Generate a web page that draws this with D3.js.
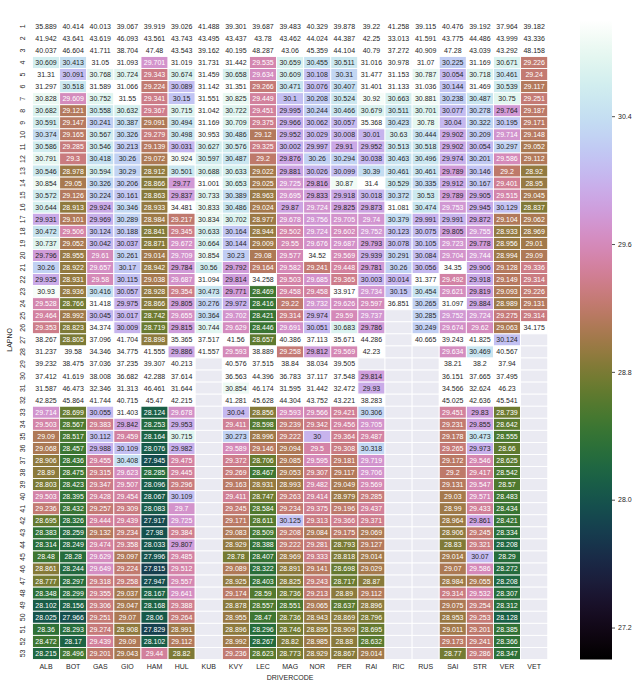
<!DOCTYPE html>
<html>
<head>
<meta charset="utf-8">
<script src="https://cdn.jsdelivr.net/npm/d3@7"></script>
<style>
  html, body { margin: 0; padding: 0; background: #ffffff; }
  svg { display: block; font-family: "Liberation Sans", Arial, sans-serif; }
</style>
</head>
<body>
<svg id="chart" width="640" height="686"></svg>
<script>
// ---- Data: lap times (seconds) per driver, laps 1..N (missing laps = null / beyond array) ----
const drivers = ["ALB","BOT","GAS","GIO","HAM","HUL","KUB","KVY","LEC","MAG","NOR","PER","RAI","RIC","RUS","SAI","STR","VER","VET"];
const laps = d3.range(1, 54);
const colorTicks = [27.2, 28.0, 28.8, 29.6, 30.4];
const colorDomain = [27.0, 31.0];

const ALB = [35.889,41.942,40.037,30.609,31.31,31.297,30.828,30.682,30.591,30.374,30.586,30.791,30.546,30.854,30.572,30.644,29.931,30.472,30.737,29.796,30.26,29.935,30.93,29.528,29.464,29.353,38.267,31.237,39.232,37.412,31.587,42.825,29.714,29.503,29.09,29.068,28.906,28.89,28.803,29.503,29.236,28.695,28.383,28.314,28.48,28.861,28.777,28.348,28.102,28.025,28.36,28.472,28.215];
const BOT = [40.414,43.641,46.604,30.413,30.091,30.518,29.609,29.121,29.147,29.165,29.285,29.3,28.978,29.05,29.126,28.913,29.101,29.506,29.052,28.955,28.922,28.931,28.936,28.766,28.992,28.823,28.805,39.58,38.475,41.619,46.473,45.864,28.699,28.567,28.517,28.457,28.436,28.475,28.423,28.395,28.432,28.326,28.259,28.249,28.28,28.244,28.297,28.299,28.156,27.966,28.293,28.17,28.496];
const GAS = [40.013,43.619,41.711,31.05,30.768,31.589,30.752,30.558,30.241,30.567,30.546,30.418,30.594,30.326,30.224,29.924,29.969,30.124,30.042,29.61,29.657,29.58,30.416,31.418,30.045,34.374,37.096,34.346,37.036,38.008,32.346,41.744,30.055,29.383,30.112,29.988,29.455,29.315,29.347,29.428,29.257,29.444,29.132,29.474,29.629,29.649,29.318,29.355,29.306,29.251,29.274,29.439,29.201];
const GIO = [39.067,46.093,38.704,31.093,30.724,31.066,31.55,30.632,30.387,30.326,30.213,30.26,30.29,30.206,30.161,30.346,30.289,30.188,30.037,30.261,30.17,30.115,30.057,29.975,30.017,30.009,41.704,34.775,37.235,36.682,31.313,40.715,31.403,29.842,29.459,30.109,30.408,29.623,29.507,29.454,29.309,29.439,29.234,29.358,29.097,29.224,29.258,29.037,29.047,29.07,28.908,29.09,29.043];
const HAM = [39.919,43.561,47.48,29.701,29.343,29.224,29.341,29.367,29.091,29.279,29.139,29.072,28.912,28.866,28.863,28.933,28.984,28.841,28.871,29.014,28.942,29.038,28.928,28.866,28.742,28.719,28.898,41.555,39.307,42.288,46.461,45.47,28.124,28.253,28.164,28.076,27.945,28.285,28.096,28.067,28.083,27.917,27.98,28.033,27.996,27.815,27.947,28.167,28.168,28.06,27.829,28.102,29.44];
const HUL = [39.026,43.743,43.543,31.019,30.674,30.089,30.15,30.715,30.494,30.498,30.031,30.924,30.501,29.77,29.837,34.481,29.217,29.345,29.672,29.709,29.784,29.687,29.354,29.805,29.655,29.815,35.365,29.886,40.213,37.614,31.644,42.215,29.678,29.953,30.715,29.982,29.475,29.445,29.296,30.109,29.7,29.725,29.384,29.807,29.485,29.512,29.557,29.641,29.388,29.264,28.991,29.112,28.82];
const KUB = [41.488,43.495,39.162,31.731,31.459,31.142,31.551,31.042,31.169,30.953,30.627,30.597,30.688,31.001,30.733,30.833,30.834,30.633,30.664,30.854,30.56,31.094,30.473,30.276,30.364,30.744,37.517,41.557];
const KVY = [39.301,43.437,40.195,31.442,30.658,31.351,30.825,30.722,30.709,30.486,30.576,30.487,30.633,30.653,30.389,30.486,30.702,30.164,30.144,30.23,29.792,29.814,29.771,29.972,29.702,29.629,41.56,29.593,40.576,36.563,30.854,41.281,30.04,29.411,30.273,29.589,29.372,29.269,29.163,29.411,29.245,29.171,29.083,28.929,28.78,29.089,28.925,29.174,28.878,28.955,28.896,28.992,29.236];
const LEC = [39.687,43.78,48.287,29.535,29.634,29.266,29.449,29.451,29.375,29.12,29.325,29.2,29.022,29.025,28.963,29.024,28.977,28.944,29.009,29.08,29.164,34.258,28.469,28.416,28.421,28.446,28.657,38.889,37.515,44.396,46.174,45.628,28.856,28.598,28.996,29.146,28.706,28.467,28.931,28.747,28.584,28.611,28.509,28.388,28.407,28.322,28.403,28.59,28.557,28.47,28.296,28.267,28.623];
const MAG = [39.483,43.462,43.06,30.659,30.609,30.471,30.1,29.995,29.966,29.952,30.002,29.876,29.881,29.725,29.695,29.87,29.678,29.502,29.55,29.577,29.582,29.503,29.458,29.22,29.314,29.691,40.386,29.258,38.84,36.783,31.595,44.304,29.593,29.239,29.222,29.094,29.085,29.053,28.993,29.263,29.234,30.125,29.208,29.222,28.969,28.891,28.825,28.736,28.551,28.736,28.746,28.82,28.773];
const NOR = [40.329,44.024,45.359,30.455,30.108,30.076,30.208,30.244,30.062,30.029,29.997,30.26,30.026,29.816,29.833,29.724,29.756,29.724,29.676,34.52,29.241,29.685,29.458,29.732,29.974,30.051,37.113,29.812,38.034,37.117,31.442,43.752,29.566,29.342,30,29.5,29.595,29.307,29.482,29.414,29.375,29.313,29.084,29.281,29.333,29.141,29.243,29.213,29.065,28.943,28.895,28.985,28.929];
const PER = [39.878,44.387,44.104,30.511,30.31,30.407,30.524,30.466,30.057,30.008,29.91,30.294,30.099,30.87,29.918,29.825,29.705,29.602,29.687,29.569,29.448,29.365,33.917,29.626,29.59,30.683,35.671,29.569,39.505,37.548,32.472,43.221,29.421,29.456,29.364,29.308,29.181,29.117,29.049,28.979,29.196,29.366,29.175,28.793,28.818,28.698,28.717,28.89,28.637,28.869,28.909,28.88,28.867];
const RAI = [39.22,42.25,40.79,31.016,31.477,31.401,30.92,30.679,35.368,30.01,29.952,30.038,30.39,31.4,30.018,29.873,29.74,29.752,29.793,29.939,29.781,30.003,29.734,29.597,29.737,29.786,44.286,42.23,null,29.814,29.93,38.283,30.306,29.705,29.487,30.318,29.719,29.706,29.569,29.285,29.437,29.371,29.069,29.127,29.014,29.029,28.87,29.112,28.896,28.796,28.695,28.632,29.014];
const RIC = [41.258,33.013,37.272,30.978,31.153,31.133,30.663,30.511,30.423,30.63,30.513,30.463,30.461,30.529,30.372,31.081,30.379,30.123,30.078,30.291,30.26,30.014,30.15,36.851];
const RUS = [39.115,41.591,40.909,31.07,30.787,31.036,30.881,30.701,30.78,30.444,30.518,30.496,30.461,30.335,30.53,30.474,29.991,30.075,30.105,30.084,30.056,31.377,30.454,30.265,30.285,30.249,40.665];
const SAI = [40.476,43.775,47.28,30.225,30.054,30.144,30.238,30.077,30.04,29.902,29.902,29.974,29.789,29.912,29.789,29.753,29.991,29.805,29.723,29.704,34.35,29.492,29.621,31.097,29.752,29.674,39.243,29.634,38.21,36.151,34.566,45.025,29.451,29.231,29.178,29.265,29.172,29.2,29.131,29.03,28.99,28.964,28.906,28.83,29.014,29.07,28.984,29.314,29.075,28.953,29.011,29.173,28.77];
const STR = [39.192,44.486,43.039,31.169,30.718,31.469,30.487,30.278,30.322,30.209,30.054,30.201,30.146,30.167,29.905,29.945,29.872,29.755,29.778,29.744,29.906,29.918,29.819,29.884,29.724,29.62,41.825,30.469,38.2,37.665,32.624,42.636,29.83,29.855,30.473,29.973,29.546,29.417,29.547,29.571,29.433,29.861,29.245,29.321,30.07,29.586,29.055,29.532,29.254,29.253,29.201,29.241,29.286];
const VER = [37.964,43.999,43.292,30.671,30.461,30.539,30.75,29.764,30.195,29.714,30.297,29.586,29.2,29.401,29.515,30.129,29.104,28.933,28.956,28.994,29.128,29.149,29.093,28.989,29.275,29.063,30.124,40.567,37.94,37.495,46.23,45.541,28.739,28.642,28.555,28.66,28.625,28.542,28.57,28.483,28.434,28.421,28.334,28.208,28.29,28.272,28.208,28.307,28.312,28.128,28.385,28.366,28.347];
const VET = [39.182,43.336,48.158,29.226,29.24,29.117,29.251,29.187,29.171,29.148,29.052,29.112,28.92,28.95,29.045,28.837,29.062,28.969,29.01,29.09,29.336,29.314,29.226,29.131,29.314,34.175];

const series = {ALB,BOT,GAS,GIO,HAM,HUL,KUB,KVY,LEC,MAG,NOR,PER,RAI,RIC,RUS,SAI,STR,VER,VET};

// ---- Layout ----
const svg = d3.select("#chart");
const plot = {left: 32.5, right: 547.7, top: 20.3, bottom: 659.5};
const cbar = {left: 580, right: 612, top: 20.3, bottom: 659.5};
const textDark = "#262626";

const x = d3.scaleBand().domain(drivers).range([plot.left, plot.right]).padding(0);
const y = d3.scaleBand().domain(laps).range([plot.top, plot.bottom]).padding(0);
const color = d3.scaleSequential(d3.interpolateCubehelixDefault).domain(colorDomain).clamp(true);

function luminance(c) {
  const rgb = d3.rgb(c);
  const f = v => { v /= 255; return v <= 0.03928 ? v / 12.92 : Math.pow((v + 0.055) / 1.055, 2.4); };
  return 0.2126 * f(rgb.r) + 0.7152 * f(rgb.g) + 0.0722 * f(rgb.b);
}

const cells = [];
drivers.forEach(d => {
  laps.forEach((lap, i) => {
    const v = series[d][i];
    cells.push({driver: d, lap, value: (v === undefined || v === null) ? null : v});
  });
});

// background for the axes area (missing data shows this)
svg.append("rect")
  .attr("x", plot.left).attr("y", plot.top)
  .attr("width", plot.right - plot.left).attr("height", plot.bottom - plot.top)
  .attr("fill", "#eaeaf2");

const g = svg.append("g");
g.selectAll("rect.cell").data(cells).join("rect")
  .attr("class", "cell")
  .attr("x", d => x(d.driver))
  .attr("y", d => y(d.lap))
  .attr("width", x.bandwidth())
  .attr("height", y.bandwidth())
  .attr("fill", d => d.value === null ? "#eaeaf2" : color(d.value))
  .attr("stroke", "#ffffff")
  .attr("stroke-width", 0.9);

g.selectAll("text.val").data(cells.filter(d => d.value !== null)).join("text")
  .attr("class", "val")
  .attr("x", d => x(d.driver) + x.bandwidth() / 2)
  .attr("y", d => y(d.lap) + y.bandwidth() / 2)
  .attr("dy", "0.35em")
  .attr("text-anchor", "middle")
  .attr("font-size", 7)
  .attr("fill", d => luminance(color(d.value)) > 0.408 ? textDark : "#ffffff")
  .text(d => String(d.value));

// ---- Axes ----
const xAxis = d3.axisBottom(x).tickSize(0).tickPadding(0);
const gx = svg.append("g").attr("transform", `translate(0,${plot.bottom})`).call(xAxis);
gx.select(".domain").remove();
gx.selectAll("text").attr("font-size", 7).attr("fill", textDark)
  .attr("font-family", "Liberation Sans, Arial, sans-serif")
  .attr("y", 5).attr("dy", "0.71em");

const yAxis = d3.axisLeft(y).tickSize(0).tickPadding(0);
const gy = svg.append("g").attr("transform", `translate(${plot.left},0)`).call(yAxis);
gy.select(".domain").remove();
gy.selectAll("text")
  .attr("font-size", 7).attr("fill", textDark)
  .attr("font-family", "Liberation Sans, Arial, sans-serif")
  .attr("x", null).attr("dy", null)
  .attr("text-anchor", "middle")
  .attr("transform", "translate(-10,0) rotate(-90)")
  .attr("dy", "0.35em")
  .attr("y", 0);

svg.append("text")
  .attr("x", (plot.left + plot.right) / 2).attr("y", 679.5)
  .attr("text-anchor", "middle").attr("font-size", 7).attr("fill", textDark)
  .text("DRIVERCODE");

svg.append("text")
  .attr("transform", `translate(12,${(plot.top + plot.bottom) / 2}) rotate(-90)`)
  .attr("text-anchor", "middle").attr("font-size", 7).attr("fill", textDark)
  .text("LAPNO");

// ---- Colorbar ----
const defs = svg.append("defs");
const grad = defs.append("linearGradient").attr("id", "cbgrad")
  .attr("x1", 0).attr("y1", 1).attr("x2", 0).attr("y2", 0);
d3.range(0, 1.0001, 0.02).forEach(t => {
  grad.append("stop").attr("offset", t).attr("stop-color", d3.interpolateCubehelixDefault(t));
});
svg.append("rect")
  .attr("x", cbar.left).attr("y", cbar.top)
  .attr("width", cbar.right - cbar.left).attr("height", cbar.bottom - cbar.top)
  .attr("fill", "url(#cbgrad)");

const cy = d3.scaleLinear().domain(colorDomain).range([cbar.bottom, cbar.top]);
const cAxis = d3.axisRight(cy).tickValues(colorTicks).tickFormat(d3.format(".1f")).tickSize(3).tickPadding(3);
const gc = svg.append("g").attr("transform", `translate(${cbar.right},0)`).call(cAxis);
gc.select(".domain").remove();
gc.selectAll("line").attr("stroke", textDark).attr("stroke-width", 0.8);
gc.selectAll("text").attr("font-size", 7).attr("fill", textDark)
  .attr("font-family", "Liberation Sans, Arial, sans-serif");
</script>
</body>
</html>
